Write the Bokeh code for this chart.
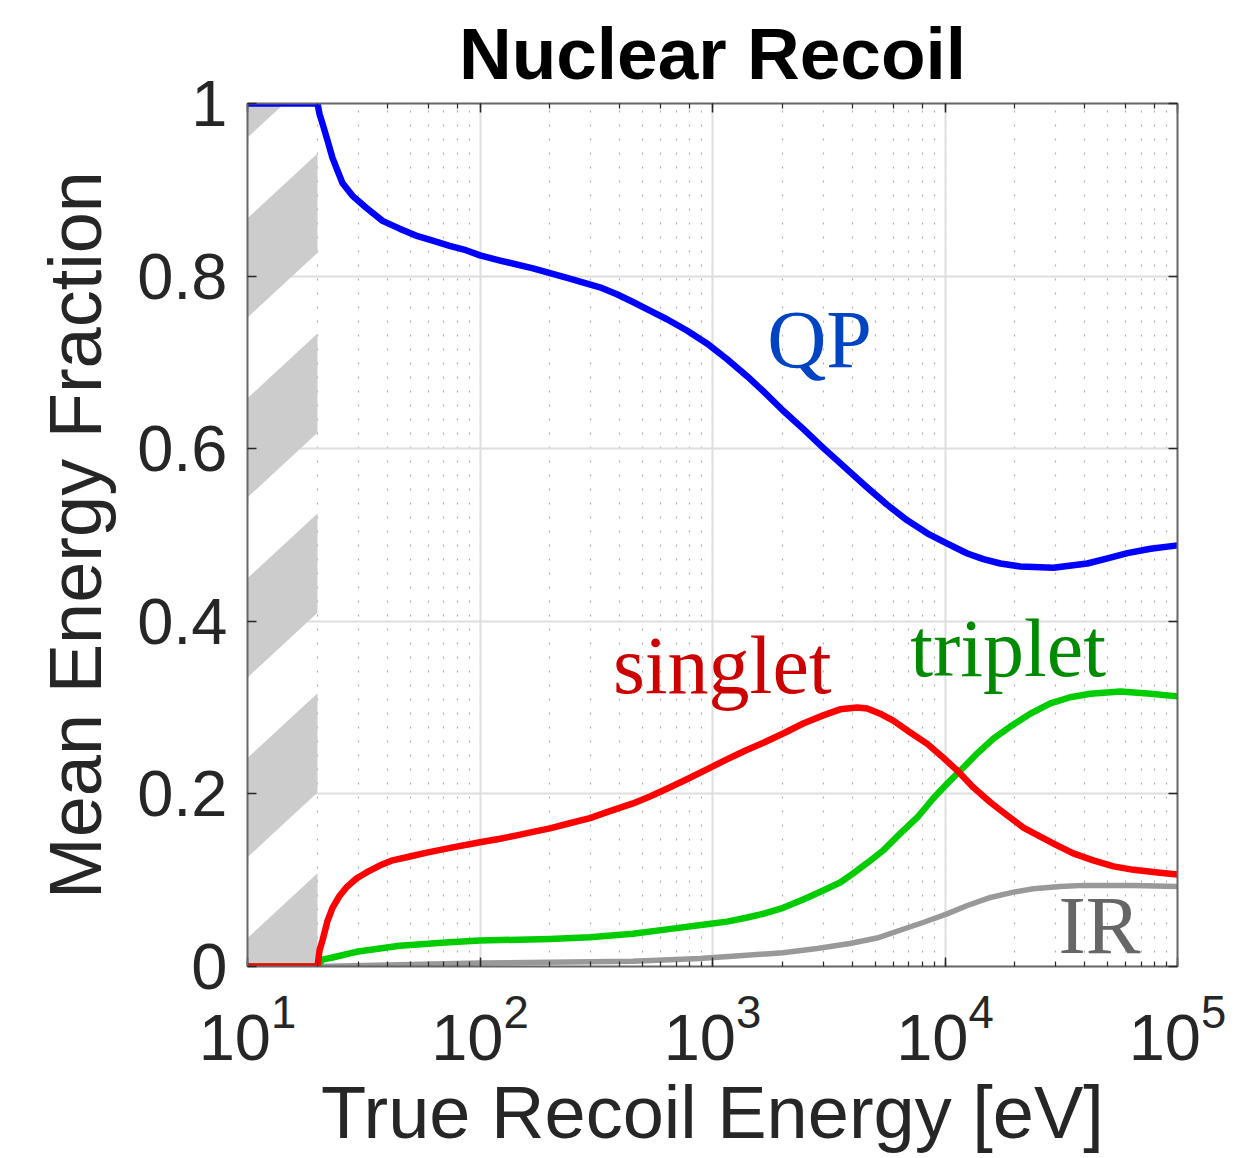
from bokeh.plotting import figure
from bokeh.models import Range1d, LogAxis, LinearAxis, FixedTicker, Label
from bokeh.embed import file_html
from bokeh.resources import INLINE

# Mean energy partition of a nuclear recoil vs. true recoil energy (eV)
qp_energy = [10, 20, 20.4, 21.0, 22.1, 23.2, 24.4, 25.6, 28.3, 32.5, 38.1, 45.1, 53, 62.6, 74,
             87, 100, 122, 169, 237, 328, 388, 455, 538, 637, 776, 946, 1153, 1408, 1648,
             2014, 2455, 2993, 3720, 4627, 5640, 6877, 8390, 10230, 12480, 14620, 17300,
             21090, 29250, 40940, 50000, 60900, 76600, 100000]
qp_frac = [1.0, 1.0, 0.988, 0.977, 0.957, 0.937, 0.922, 0.908, 0.893, 0.879, 0.864, 0.855,
           0.847, 0.841, 0.835, 0.830, 0.824, 0.818, 0.809, 0.798, 0.787, 0.779, 0.770, 0.760,
           0.750, 0.737, 0.722, 0.704, 0.684, 0.667, 0.644, 0.623, 0.601, 0.578, 0.555, 0.535,
           0.517, 0.502, 0.490, 0.4786, 0.472, 0.467, 0.4635, 0.462, 0.467, 0.473, 0.479,
           0.484, 0.488]

singlet_energy = [10, 20, 20.4, 21.0, 22.1, 23.2, 24.9, 26.7, 29.4, 32.5, 37, 42.1, 49.9, 59,
                  76.4, 100, 122, 144, 169, 200, 243, 297, 362, 455, 538, 637, 776, 946, 1153,
                  1380, 1648, 2014, 2455, 2993, 3540, 4190, 4630, 5260, 5990, 6880, 8390,
                  9820, 11300, 13240, 15700, 18540, 21720, 29300, 35600, 43400, 53100, 64700,
                  82000, 100000]
singlet_frac = [0.0, 0.0, 0.0185, 0.030, 0.053, 0.068, 0.082, 0.092, 0.102, 0.109, 0.117,
                0.123, 0.1275, 0.132, 0.138, 0.144, 0.148, 0.152, 0.156, 0.160, 0.166, 0.172,
                0.180, 0.189, 0.197, 0.206, 0.217, 0.2285, 0.240, 0.250, 0.259, 0.270, 0.2816,
                0.291, 0.298, 0.300, 0.299, 0.293, 0.285, 0.2735, 0.258, 0.242, 0.227, 0.2075,
                0.190, 0.175, 0.161, 0.1425, 0.131, 0.123, 0.116, 0.112, 0.109, 0.1066]

triplet_energy = [10, 20, 21, 23.2, 29.4, 45.1, 74, 100, 200, 297, 455, 637, 946, 1153, 1380,
                  1648, 2014, 2455, 2993, 3540, 4030, 4630, 5420, 6410, 7600, 8890, 10230,
                  12000, 13770, 16150, 19100, 23300, 28400, 34600, 42200, 56900, 76600,
                  100000]
triplet_frac = [0.0, 0.0, 0.008, 0.0104, 0.017, 0.024, 0.028, 0.030, 0.032, 0.034, 0.038,
                0.043, 0.049, 0.052, 0.0562, 0.061, 0.068, 0.0776, 0.088, 0.0973, 0.108,
                0.120, 0.1344, 0.154, 0.1727, 0.1947, 0.212, 0.2306, 0.247, 0.264, 0.278,
                0.293, 0.305, 0.312, 0.316, 0.3187, 0.316, 0.313]

ir_energy = [10, 20, 100, 455, 883, 1350, 2010, 2820, 3900, 5100, 6410, 8050, 10200, 12480,
             15700, 19700, 24000, 31300, 39400, 64700, 100000]
ir_frac = [0.0, 0.0, 0.004, 0.006, 0.0093, 0.0127, 0.016, 0.0209, 0.0267, 0.0330, 0.042,
           0.051, 0.061, 0.0707, 0.080, 0.0862, 0.090, 0.0927, 0.094, 0.094, 0.0927]

y_ticks = [0, 0.2, 0.4, 0.6, 0.8, 1]
y_tick_labels = ["0", "0.2", "0.4", "0.6", "0.8", "1"]

# energies below the detection threshold are shaded
threshold_lo = 10
threshold_hi = 20

AXIS_FONT = "Liberation Sans"
LABEL_FONT = "Liberation Serif"
TEXT_COLOR = "#262626"

p = figure(width=1241, height=1158, x_axis_type="log",
           x_range=Range1d(10, 1e5), y_range=Range1d(0, 1),
           output_backend="svg", toolbar_location=None,
           min_border_left=247, min_border_right=64,
           min_border_top=103, min_border_bottom=192)

p.title.text = "Nuclear Recoil"
p.title.text_font = AXIS_FONT
p.title.text_font_size = "73px"
p.title.text_font_style = "bold"
p.title.text_color = "black"
p.title.align = "center"
p.title.standoff = 19

p.outline_line_color = None
p.background_fill_color = "white"

# grids: solid at major ticks, dotted at minor decades
p.xgrid.grid_line_color = "#dedede"
p.xgrid.grid_line_width = 2
p.xgrid.minor_grid_line_color = "#b0b0b0"
p.xgrid.minor_grid_line_width = 1.2
p.xgrid.minor_grid_line_dash = "2 12"
p.ygrid.grid_line_color = "#dedede"
p.ygrid.grid_line_width = 2
p.ygrid.ticker = FixedTicker(ticks=y_ticks)


def style_axis(ax, show_labels=True):
    ax.axis_line_color = "#666666"
    ax.axis_line_width = 2
    ax.major_tick_line_color = TEXT_COLOR
    ax.minor_tick_line_color = TEXT_COLOR
    ax.major_tick_line_width = 1.5
    ax.minor_tick_line_width = 1.2
    ax.major_tick_in = 9
    ax.major_tick_out = 0
    ax.minor_tick_in = 5
    ax.minor_tick_out = 0
    ax.major_label_text_font = AXIS_FONT
    ax.major_label_text_color = TEXT_COLOR
    ax.axis_label_text_font = AXIS_FONT
    ax.axis_label_text_color = TEXT_COLOR
    ax.axis_label_text_font_style = "normal"
    ax.axis_label_text_font_size = "74px"
    if show_labels:
        ax.major_label_text_font_size = "65px"
    else:
        ax.major_label_text_font_size = "2px"
        ax.major_label_text_alpha = 0
        ax.major_label_standoff = 0


xa = p.xaxis[0]
style_axis(xa)
xa.axis_label = "True Recoil Energy [eV]"
xa.major_label_standoff = 27
xa.axis_label_standoff = 8

ya = p.yaxis[0]
style_axis(ya)
ya.ticker = FixedTicker(ticks=y_ticks)
ya.major_label_overrides = dict(zip(y_ticks, y_tick_labels))
ya.axis_label = "Mean Energy Fraction"
ya.major_label_standoff = 20
ya.axis_label_standoff = 17
ya.minor_tick_in = 0

top = LogAxis()
style_axis(top, show_labels=False)
p.add_layout(top, "above")

right = LinearAxis(ticker=FixedTicker(ticks=y_ticks))
style_axis(right, show_labels=False)
right.minor_tick_in = 0
p.add_layout(right, "right")

# diagonal striping of the sub-threshold band
stripe_period = 0.2085
stripe_width = 0.115
stripe_rise = 0.075
stripe_offset = -0.007
xs, ys = [], []
for k in range(-1, 7):
    yb = stripe_offset + k * stripe_period
    xs.append([threshold_lo, threshold_hi, threshold_hi, threshold_lo])
    ys.append([yb - stripe_rise, yb, yb + stripe_width, yb - stripe_rise + stripe_width])
p.patches(xs, ys, fill_color="#cccccc", line_color=None)

p.line(ir_energy, ir_frac, line_color="#999999", line_width=5.5, line_join="round")
p.line(triplet_energy, triplet_frac, line_color="#00cc00", line_width=6.5, line_join="round")
p.line(singlet_energy, singlet_frac, line_color="#ff0000", line_width=6.5, line_join="round")
p.line(qp_energy, qp_frac, line_color="#0000ff", line_width=6.5, line_join="round")

labels = [
    ("QP", 1718, 0.726, "#0044c4"),
    ("singlet", 373, 0.349, "#cc0000"),
    ("triplet", 7080, 0.369, "#008a00"),
    ("IR", 30760, 0.047, "#666666"),
]
for txt, lx, ly, col in labels:
    p.add_layout(Label(x=lx, y=ly, text=txt, text_font=LABEL_FONT, text_font_size="82px",
                       text_color=col, text_baseline="alphabetic", text_align="left"))

open("out.html", "w").write(file_html(p, INLINE))
